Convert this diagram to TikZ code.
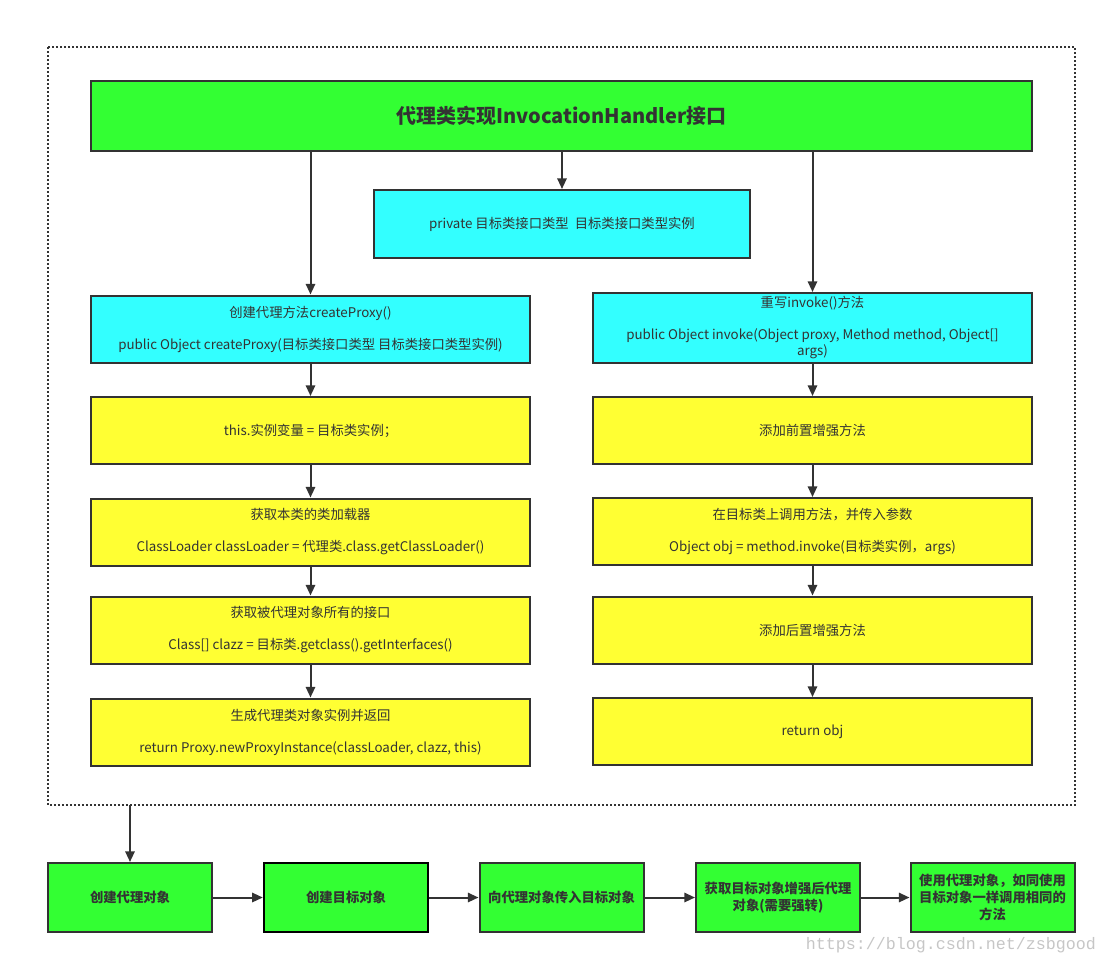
\documentclass[tikz,border=0pt]{standalone}
\usepackage{fontspec}
\setmainfont{Noto Sans CJK SC}
\newfontfamily\wmfont{Liberation Mono}
\usetikzlibrary{arrows.meta}
\definecolor{boxgreen}{HTML}{33FF33}
\definecolor{boxcyan}{HTML}{33FFFF}
\definecolor{boxyellow}{HTML}{FFFF33}
\definecolor{ink}{HTML}{333333}

\begin{document}
\begin{tikzpicture}[x=0.75pt, y=-0.75pt,
    box/.style={draw=ink, line width=1.5pt, text=ink, align=center, inner sep=0pt,
      font=\fontsize{10}{12}\selectfont},
    gbox/.style={box, fill=boxgreen, font=\fontsize{10}{12.5}\selectfont\bfseries},
    cbox/.style={box, fill=boxcyan},
    ybox/.style={box, fill=boxyellow},
    colbox/.style={minimum width=329.25pt, minimum height=50.25pt},
    rowbox/.style={gbox, minimum width=123pt, minimum height=51.75pt},
    arr/.style={-{Triangle[length=8pt,width=7pt]}, draw=ink, line width=1.5pt},
    frame/.style={draw=ink, line width=1.2pt, dash pattern=on 1.2pt off 1.8pt}]
  \useasboundingbox (0,0) rectangle (1107,965);
  % dotted frame round the proxy class
  \draw[frame] (48,47) rectangle (1075,805);
  \coordinate (fs) at (130,805);

  % head and field
  \node[gbox, minimum width=705.75pt, minimum height=52.5pt, font=\fontsize{15}{17}\selectfont\bfseries]
    (top) at (561.5,116) {代理类实现InvocationHandler接口};
  \node[cbox, minimum width=282pt, minimum height=51pt] (priv) at (562,224)
    {private 目标类接口类型\ \ 目标类接口类型实例};

  % left column: createProxy
  \node[cbox, colbox] (l0) at (310.5,329) {创建代理方法createProxy()\\[12pt]public Object createProxy(目标类接口类型 目标类接口类型实例)};
  \node[ybox, colbox] (l1) at (310.5,430.5) {this.实例变量 = 目标类实例；};
  \node[ybox, colbox] (l2) at (310.5,532) {获取本类的类加载器\\[12pt]ClassLoader classLoader = 代理类.class.getClassLoader()};
  \node[ybox, colbox] (l3) at (310.5,630) {获取被代理对象所有的接口\\[12pt]Class[] clazz = 目标类.getclass().getInterfaces()};
  \node[ybox, colbox] (l4) at (310.5,732) {生成代理类对象实例并返回\\[12pt]return Proxy.newProxyInstance(classLoader, clazz, this)};

  % right column: invoke
  \node[cbox, colbox, minimum height=52.5pt] (r0) at (812.5,328) {重写invoke()方法\\[12pt]public Object invoke(Object proxy, Method method, Object[]\\args)};
  \node[ybox, colbox] (r1) at (812.5,430.5) {添加前置增强方法};
  \node[ybox, colbox] (r2) at (812.5,531.5) {在目标类上调用方法，并传入参数\\[12pt]Object obj = method.invoke(目标类实例，args)};
  \node[ybox, colbox] (r3) at (812.5,630) {添加后置增强方法};
  \node[ybox, colbox] (r4) at (812.5,731.5) {return obj};

  \draw[arr] (top.south -| l0) -- (l0);
  \draw[arr] (top.south -| priv) -- (priv);
  \draw[arr] (top.south -| r0) -- (r0);
  \foreach \a/\b in {l0/l1,l1/l2,l2/l3,l3/l4,r0/r1,r1/r2,r2/r3,r3/r4}
    \draw[arr] (\a) -- (\b);

  % bottom row: using the proxy
  \node[rowbox] (b1) at (130,897.5) {创建代理对象};
  \node[rowbox, draw=black, line width=1.8pt] (b2) at (346,897.5) {创建目标对象};
  \node[rowbox] (b3) at (561.5,897.5) {向代理对象传入目标对象};
  \node[rowbox] (b4) at (778,897.5) {获取目标对象增强后代理\\对象(需要强转)};
  \node[rowbox] (b5) at (992.5,897.5) {使用代理对象，如同使用\\目标对象一样调用相同的\\方法};

  \draw[arr] (fs) -- (b1);
  \foreach \a/\b in {b1/b2,b2/b3,b3/b4,b4/b5}
    \draw[arr] (\a) -- (\b);

  \node[font=\wmfont\fontsize{12.5}{14}\selectfont, text=gray!45] (wm) at (951,945) {https://blog.csdn.net/zsbgood};
\end{tikzpicture}
\end{document}
